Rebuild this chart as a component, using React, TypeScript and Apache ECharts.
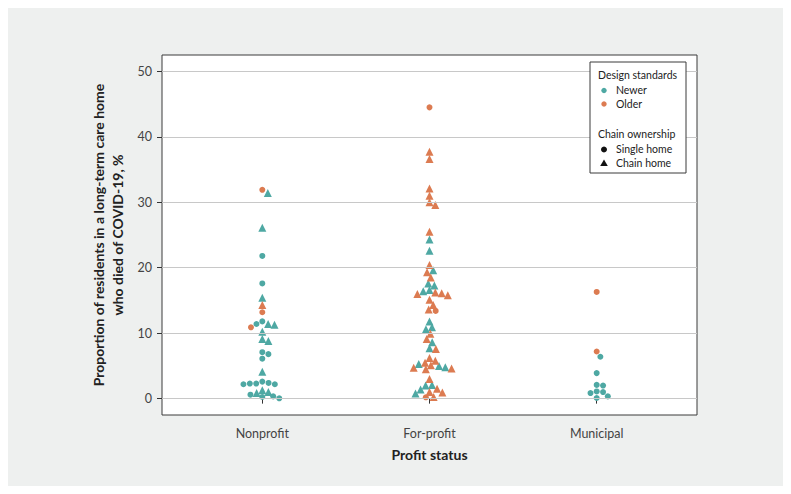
import React, { useEffect, useRef } from "react";
import * as echarts from "echarts";

// ---------- data ----------
const categories = ["Nonprofit", "For-profit", "Municipal"];
const yTicks = [0, 10, 20, 30, 40, 50];

// design: N = Newer, O = Older ; ownership: S = Single home, C = Chain home
const nonprofitValues = [31.9, 31.4, 26.1, 21.8, 17.6, 15.4, 14.3, 13.2, 11.8, 11.4, 11.3, 11.4, 10.9, 10.2, 9.1, 8.8, 7.1, 6.8, 6.1, 4.1, 2.6, 2.4, 2.3, 2.3, 2.2, 2.2, 1.3, 1.0, 0.85, 0.6, 0.35, 0.25, 0.05];
const nonprofitDesign = ["O", "N", "N", "N", "N", "N", "O", "O", "N", "N", "N", "N", "O", "N", "N", "N", "N", "N", "N", "N", "N", "N", "N", "N", "N", "N", "N", "N", "N", "N", "N", "N", "N"];
const nonprofitOwner = ["S", "C", "C", "S", "S", "C", "C", "S", "S", "C", "C", "S", "S", "C", "C", "C", "S", "S", "S", "C", "S", "S", "S", "S", "S", "S", "C", "C", "C", "S", "S", "S", "S"];

const forprofitValues = [44.5, 37.7, 36.6, 32.1, 31.0, 30.0, 29.6, 25.5, 24.3, 22.6, 20.4, 19.6, 19.3, 18.5, 17.6, 17.3, 16.6, 16.4, 16.2, 16.1, 16.0, 15.8, 15.1, 14.3, 13.6, 13.4, 11.8, 10.9, 10.6, 9.9, 9.1, 8.6, 7.7, 7.6, 6.2, 5.8, 5.5, 5.3, 5.1, 5.0, 4.8, 4.7, 4.6, 4.5, 3.0, 2.1, 2.0, 1.5, 1.4, 1.0, 0.95, 0.8, 0.25, 0.2];
const forprofitDesign = ["O", "O", "O", "O", "O", "O", "O", "O", "N", "N", "O", "N", "O", "O", "N", "N", "N", "N", "O", "O", "O", "O", "O", "O", "O", "O", "N", "N", "N", "O", "O", "N", "N", "O", "O", "O", "O", "N", "O", "N", "N", "O", "O", "O", "O", "N", "N", "O", "N", "O", "O", "N", "O", "O"];
const forprofitOwner = ["S", "C", "C", "C", "C", "C", "C", "C", "C", "C", "C", "C", "C", "C", "C", "C", "C", "C", "C", "C", "C", "C", "C", "C", "C", "S", "C", "C", "C", "C", "C", "C", "C", "C", "C", "C", "C", "C", "C", "C", "C", "C", "C", "C", "C", "C", "C", "C", "C", "C", "C", "C", "C", "S"];

const municipalValues = [16.3, 7.2, 6.4, 3.9, 2.1, 2.0, 1.1, 1.0, 0.85, 0.35, 0.1];
const municipalDesign = ["O", "O", "N", "N", "N", "N", "N", "N", "N", "N", "N"];
const municipalOwner = ["S", "S", "S", "S", "S", "S", "S", "S", "S", "S", "S"];

// ---------- styling / layout ----------
const TEAL = "#4ea8a3";
const ORANGE = "#dc7b51";
const GRID = { left: 154, top: 47, width: 535, height: 360 };
const X_MIN = 0.4, X_MAX = 3.6;
const Y_MIN = -2.5, Y_MAX = 52.5;
const FONT = "Lato, 'Noto Sans', sans-serif";

function swarmOffsets(vals: number[], pxPerX: number, pxPerY: number, d: number): number[] {
  const order = vals.map((_, i) => i).sort((a, b) => vals[b] - vals[a]);
  const placed: { x: number; y: number }[] = [];
  const out = new Array(vals.length).fill(0);
  for (const i of order) {
    const y = vals[i] * pxPerY;
    const cands = [0];
    for (const p of placed) {
      const dy = Math.abs(p.y - y);
      if (dy < d) {
        const dx = Math.sqrt(d * d - dy * dy);
        cands.push(p.x + dx, p.x - dx);
      }
    }
    cands.sort((a, b) => Math.abs(a) - Math.abs(b) || b - a);
    let best = 0;
    for (const c of cands) {
      if (placed.every((p) => (p.x - c) ** 2 + (p.y - y) ** 2 >= d * d - 1e-6)) {
        best = c;
        break;
      }
    }
    placed.push({ x: best, y });
    out[i] = best / pxPerX;
  }
  return out;
}

export default function App() {
  const ref = useRef<HTMLDivElement>(null);
  useEffect(() => {
    if (!ref.current) return;
    const chart = echarts.init(ref.current, undefined, { renderer: "svg" });
    const pxPerX = GRID.width / (X_MAX - X_MIN);
    const pxPerY = GRID.height / (Y_MAX - Y_MIN);
    const groups = [
      { v: nonprofitValues, d: nonprofitDesign, o: nonprofitOwner },
      { v: forprofitValues, d: forprofitDesign, o: forprofitOwner },
      { v: municipalValues, d: municipalDesign, o: municipalOwner },
    ];
    const buckets: Record<string, number[][]> = { NS: [], NC: [], OS: [], OC: [] };
    groups.forEach((g, gi) => {
      const offs = swarmOffsets(g.v, pxPerX, pxPerY, 6.4);
      g.v.forEach((val, i) => {
        buckets[g.d[i] + g.o[i]].push([gi + 1 + offs[i], val]);
      });
    });
    const mk = (key: string, color: string, tri: boolean) => ({
      type: "scatter",
      data: buckets[key],
      symbol: tri ? "triangle" : "circle",
      symbolSize: tri ? 8 : 6,
      itemStyle: { color, opacity: 1 },
      z: 3,
    });
    const L = { x: 582, y: 54 };
    const legendText = (text: string, x: number, y: number) => ({
      type: "text",
      x,
      y,
      style: { text, fill: "#222", font: `10.5px ${FONT}`, textVerticalAlign: "middle" },
    });
    chart.setOption({
      animation: false,
      backgroundColor: "#eef0ef",
      grid: {
        ...GRID,
        show: true,
        backgroundColor: "#ffffff",
        borderColor: "#3a3a3a",
        borderWidth: 1,
      },
      xAxis: {
        type: "value",
        min: X_MIN,
        max: X_MAX,
        name: "Profit status",
        nameLocation: "middle",
        nameGap: 32,
        nameTextStyle: { fontFamily: FONT, fontSize: 14, fontWeight: "bold", color: "#222" },
        axisLine: { show: false },
        splitLine: { show: false },
        axisTick: { show: true, customValues: [1, 2, 3], length: 5, lineStyle: { color: "#333" } },
        axisLabel: {
          customValues: [1, 2, 3],
          formatter: (v: number) => categories[Math.round(v) - 1] ?? "",
          color: "#444",
          fontFamily: FONT,
          fontSize: 12.5,
          margin: 12,
        },
      },
      yAxis: {
        type: "value",
        min: Y_MIN,
        max: Y_MAX,
        name: "Proportion of residents in a long-term care home\nwho died of COVID-19, %",
        nameLocation: "middle",
        nameRotate: 90,
        nameGap: 30,
        nameTextStyle: { fontFamily: FONT, fontSize: 14, fontWeight: "bold", color: "#222", lineHeight: 19 },
        axisLine: { show: false },
        splitLine: { show: false },
        axisTick: { show: true, customValues: yTicks, length: 5, lineStyle: { color: "#333" } },
        axisLabel: {
          customValues: yTicks,
          color: "#444",
          fontFamily: FONT,
          fontSize: 12.5,
          margin: 10,
        },
      },
      series: [
        {
          type: "scatter",
          data: [],
          z: 1,
          markLine: {
            silent: true,
            symbol: ["none", "none"],
            label: { show: false },
            lineStyle: { color: "#c8c8c8", type: "solid", width: 1 },
            data: yTicks.map((t) => ({ yAxis: t })),
          },
        },
        mk("NS", TEAL, false),
        mk("NC", TEAL, true),
        mk("OS", ORANGE, false),
        mk("OC", ORANGE, true),
      ],
      graphic: [
        {
          type: "rect",
          shape: { x: L.x, y: L.y, width: 96, height: 111 },
          style: { fill: "#fff", stroke: "#3a3a3a", lineWidth: 1 },
          z: 10,
        },
        { ...legendText("Design standards", L.x + 8, L.y + 13), z: 11 },
        { type: "circle", shape: { cx: L.x + 14, cy: L.y + 28.5, r: 2.7 }, style: { fill: TEAL }, z: 11 },
        { ...legendText("Newer", L.x + 26, L.y + 28), z: 11 },
        { type: "circle", shape: { cx: L.x + 14, cy: L.y + 42, r: 2.7 }, style: { fill: ORANGE }, z: 11 },
        { ...legendText("Older", L.x + 26, L.y + 41.5), z: 11 },
        { ...legendText("Chain ownership", L.x + 8, L.y + 72), z: 11 },
        { type: "circle", shape: { cx: L.x + 14, cy: L.y + 87.5, r: 3 }, style: { fill: "#111" }, z: 11 },
        { ...legendText("Single home", L.x + 26, L.y + 87), z: 11 },
        {
          type: "polygon",
          shape: { points: [[L.x + 14, L.y + 97.5], [L.x + 17.8, L.y + 104], [L.x + 10.2, L.y + 104]] },
          style: { fill: "#111" },
          z: 11,
        },
        { ...legendText("Chain home", L.x + 26, L.y + 101), z: 11 },
      ],
    });
    return () => chart.dispose();
  }, []);
  return <div ref={ref} style={{ width: 775, height: 478 }} />;
}
